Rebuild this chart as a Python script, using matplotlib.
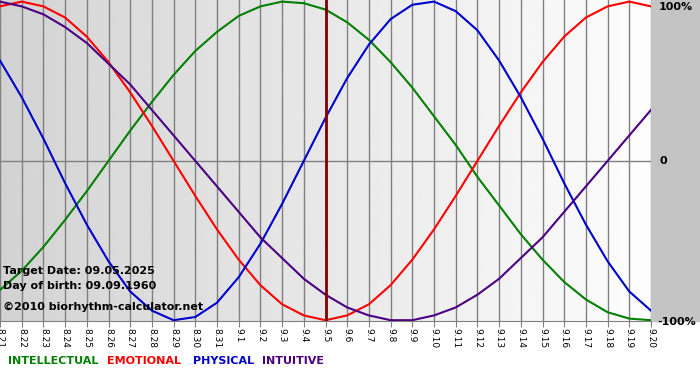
import numpy as np
import matplotlib
matplotlib.use('Agg')
import matplotlib.pyplot as plt

# days shown: 21 Aug .. 20 Sep
day_labels = ['8.21', '8.22', '8.23', '8.24', '8.25', '8.26', '8.27', '8.28', '8.29', '8.30', '8.31',
              '9.1', '9.2', '9.3', '9.4', '9.5', '9.6', '9.7', '9.8', '9.9', '9.10',
              '9.11', '9.12', '9.13', '9.14', '9.15', '9.16', '9.17', '9.18', '9.19', '9.20']

# values (fraction of 100%)
intellectual = [-0.81, -0.69, -0.54, -0.37, -0.19, 0.00, 0.19, 0.37, 0.54, 0.69, 0.81,
                0.91, 0.97, 1.00, 0.99, 0.95, 0.87, 0.76, 0.62, 0.46, 0.28,
                0.10, -0.10, -0.28, -0.46, -0.62, -0.76, -0.87, -0.95, -0.99, -1.00]
emotional = [0.97, 1.00, 0.97, 0.90, 0.78, 0.62, 0.43, 0.22, 0.00, -0.22, -0.43,
             -0.62, -0.78, -0.90, -0.97, -1.00, -0.97, -0.90, -0.78, -0.62, -0.43,
             -0.22, 0.00, 0.22, 0.43, 0.62, 0.78, 0.90, 0.97, 1.00, 0.97]
physical = [0.63, 0.40, 0.14, -0.14, -0.40, -0.63, -0.82, -0.94, -1.00, -0.98, -0.89,
            -0.73, -0.52, -0.27, 0.00, 0.27, 0.52, 0.73, 0.89, 0.98, 1.00,
            0.94, 0.82, 0.63, 0.40, 0.14, -0.14, -0.40, -0.63, -0.82, -0.94]
intuitive = [1.00, 0.97, 0.92, 0.84, 0.74, 0.61, 0.48, 0.32, 0.16, 0.00, -0.16,
             -0.32, -0.48, -0.61, -0.74, -0.84, -0.92, -0.97, -1.00, -1.00, -0.97,
             -0.92, -0.84, -0.74, -0.61, -0.48, -0.32, -0.16, 0.00, 0.16, 0.32]
target_idx = 15

W, H = 700, 380
fig = plt.figure(figsize=(W / 100, H / 100), dpi=100)

# figure background: white, grey right margin, gradient band under plot
bg = fig.add_axes([0, 0, 1, 1], zorder=-5)
bg.set_xlim(0, W)
bg.set_ylim(H, 0)
bg.axis('off')
bg.add_patch(plt.Rectangle((0, 0), W, H, color='white'))
band = np.linspace(1.0, 0.0, 256)[None, :]
bg.imshow(band, extent=[0, W, 369, 321], cmap='gray', vmin=-3.0, vmax=1.0, aspect='auto')
bg.add_patch(plt.Rectangle((651, 0), 49, 321, color='#c4c4c4'))

ax = fig.add_axes([0, (H - 321) / H, 651 / W, 321 / H])
x = np.arange(len(day_labels))
ax.set_xlim(0, 30)
ax.set_ylim(-1.005, 1.01)

grad = np.linspace(0, 1, 256)[None, :]
ax.imshow(grad, extent=[0, 30, -1.005, 1.01], cmap='gray', vmin=-5.0, vmax=1.05,
          aspect='auto', zorder=0)
for xi in x:
    ax.axvline(xi, color='#808080', lw=1, zorder=1)
ax.axhline(0, color='#808080', lw=1, zorder=1)

ax.plot(x, intellectual, color='#008000', lw=1.5, zorder=3)
ax.plot(x, emotional, color='#ff0000', lw=1.5, zorder=3)
ax.plot(x, physical, color='#0000cc', lw=1.5, zorder=3)
ax.plot(x, intuitive, color='#4b0082', lw=1.5, zorder=3)
ax.axvline(target_idx, color='#800000', lw=2, zorder=4)

for s in ['top', 'left', 'right']:
    ax.spines[s].set_visible(False)
ax.spines['bottom'].set_color('#808080')
ax.set_yticks([])
ax.set_xticks(x)
ax.set_xticklabels(day_labels, rotation=270, fontsize=6.5, family='DejaVu Sans')
ax.tick_params(axis='x', length=4, color='#808080', pad=1)

ax.text(0.005, 0.155, 'Target Date: 09.05.2025', transform=ax.transAxes,
        fontsize=8, fontweight='bold', va='center', ha='left', zorder=5)
ax.text(0.005, 0.108, 'Day of birth: 09.09.1960', transform=ax.transAxes,
        fontsize=8, fontweight='bold', va='center', ha='left', zorder=5)
ax.text(0.005, 0.043, '\u00a92010 biorhythm-calculator.net', transform=ax.transAxes,
        fontsize=8, fontweight='bold', va='center', ha='left', zorder=5)

# right-side scale labels
fig.text(659 / W, 1 - 7 / H, '100%', fontsize=8, fontweight='bold', va='center', ha='left')
fig.text(659 / W, 1 - 161 / H, '0', fontsize=8, fontweight='bold', va='center', ha='left')
fig.text(657 / W, 1 - 322 / H, '-100%', fontsize=8, fontweight='bold', va='center', ha='left')

# legend words
legend = [('INTELLECTUAL', '#008000', 8), ('EMOTIONAL', '#ff0000', 107),
          ('PHYSICAL', '#0000cc', 193), ('INTUITIVE', '#4b0082', 262)]
for word, col, px in legend:
    fig.text(px / W, 1 - 361 / H, word, color=col, fontsize=8, fontweight='bold',
             va='center', ha='left')

fig.savefig('out.png', dpi=100)
